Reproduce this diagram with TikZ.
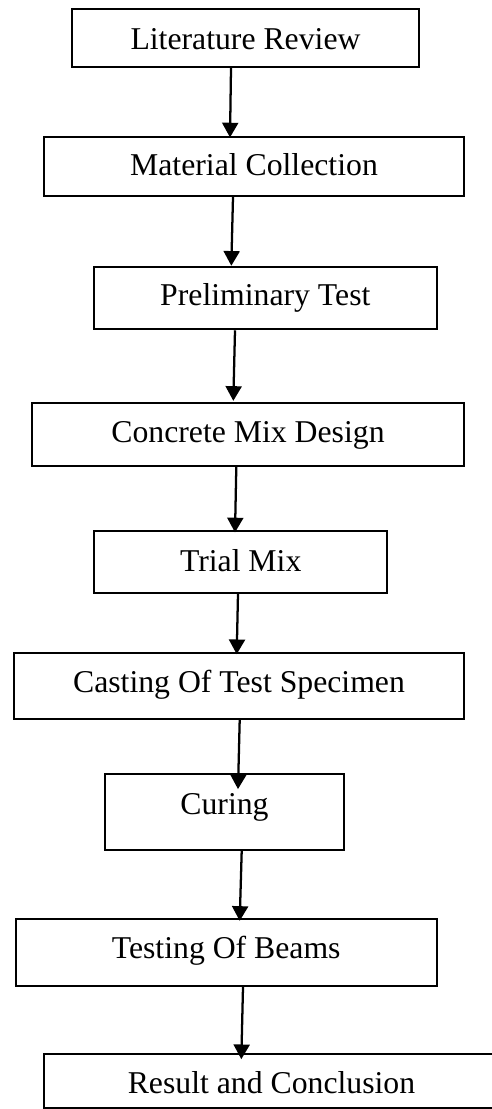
\documentclass[tikz,border=0pt]{standalone}
\usepackage{fontspec}
\setmainfont{Liberation Serif}
\usetikzlibrary{arrows.meta,calc}
\tikzset{
  stage/.style={draw=black, line width=0.7pt, inner sep=0pt, font=\fontsize{11.9}{14}\selectfont, text depth=0pt},
  arr/.style={-{Triangle[width=6pt,length=5.5pt]}, line width=0.85pt, draw=black},
}
\begin{document}
\begin{tikzpicture}[x=0.375pt,y=-0.375pt]
            \useasboundingbox (0,0) rectangle (492,1109);
            \clip (0,0) rectangle (492,1109);
            % stages
            \foreach \nm/\cx/\cy/\w/\h/\tb/\txt in {
                lit/245.5/38.3/130.35/21.75/8.25/Literature Review,
                mat/254/166.5/157.7/22.1/7.1/Material Collection,
                pre/265.3/298/128.5/23.5/5.8/Preliminary Test,
                mix/248/434.7/162.2/23.5/5.7/Concrete Mix Design,
                trial/240.7/561.8/110.0/23.1/6.9/Trial Mix,
                cast/239/686.2/169.0/24.6/4.9/Casting Of Test Specimen,
                cure/224.5/812.2/89.6/28.4/1.35/Curing,
                test/226.2/952.7/157.9/25.0/4.2/Testing Of Beams,
                res/271.5/1081.4/170.6/20.25/8.9/Result and Conclusion} {
                \node[stage, minimum width=\w pt, minimum height=\h pt, text height=\tb pt] (\nm) at (\cx,\cy) {\txt};
            }
            % flow
            \foreach \a/\b/\xa/\xb/\yb in {lit/mat/231/230/1.3, mat/pre/233/231.3/0,
                pre/mix/235/233.3/-1.6, mix/trial/236.3/235/2.3, trial/cast/238/236.7/1.7,
                cast/cure/239.7/238/15.7, cure/test/241.7/239.7/2.4, test/res/243/241.3/5.7} {
                \draw[arr] (\a.south -| \xa,0) -- ($(\b.north -| \xb,0)+(0,\yb)$);
            }
\end{tikzpicture}
\end{document}
